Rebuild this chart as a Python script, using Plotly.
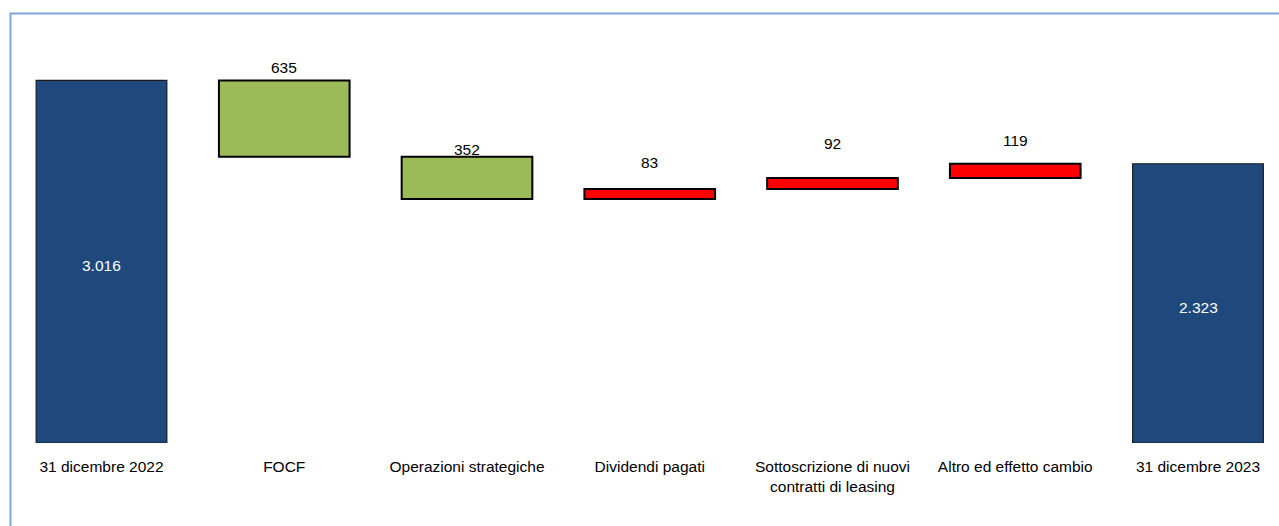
import plotly.graph_objects as go

categories = ["31 dicembre 2022", "FOCF", "Operazioni strategiche", "Dividendi pagati",
              "Sottoscrizione di nuovi<br>contratti di leasing", "Altro ed effetto cambio",
              "31 dicembre 2023"]
measures = ["absolute", "relative", "relative", "relative", "relative", "relative", "total"]
values = [3016, -635, -352, 83, 92, 119, 0]
# pixel offset of each delta label above its bar top
label_offsets = [None, 13, 7, 27, 35, 23, None]

def fmt(v):
    return f"{abs(v):,}".replace(",", ".")

fig = go.Figure(go.Waterfall(
    x=categories, y=values, measure=measures,
    width=0.715,
    connector=dict(visible=False),
    increasing=dict(marker=dict(color="#FF0000", line=dict(color="black", width=2))),
    decreasing=dict(marker=dict(color="#9BBB59", line=dict(color="black", width=2))),
    totals=dict(marker=dict(color="#1F497D", line=dict(color="#1a1a1a", width=1.2))),
    hoverinfo="skip",
))

annotations = []
running = 0
for i, (c, m, v) in enumerate(zip(categories, measures, values)):
    if m in ("absolute", "total"):
        if m == "absolute":
            running = v
        annotations.append(dict(x=c, y=running / 2, yshift=-4, text=fmt(running), showarrow=False,
                                font=dict(color="white", size=15.5, family="Liberation Sans")))
    else:
        top = max(running, running + v)
        running += v
        annotations.append(dict(x=c, y=top, yshift=label_offsets[i], text=fmt(v), showarrow=False,
                                yanchor="middle",
                                font=dict(color="black", size=15.5, family="Liberation Sans")))

fig.update_layout(
    width=1279, height=526,
    margin=dict(l=0, r=0, t=0, b=83),
    paper_bgcolor="white", plot_bgcolor="white",
    showlegend=False,
    annotations=annotations,
    font=dict(family="Liberation Sans", size=15.5, color="black"),
    xaxis=dict(range=[-0.5554, 6.4432], showgrid=False, showline=False, ticks="",
               ticklabelstandoff=12, tickfont=dict(size=15.5, color="black"), fixedrange=True),
    yaxis=dict(range=[0, 3685], visible=False, fixedrange=True),
    shapes=[dict(type="rect", xref="paper", yref="paper",
                 x0=10.5 / 1279, x1=1.05, y0=-0.4, y1=(443 - 13.5) / 443,
                 line=dict(color="#7EA6DC", width=2), fillcolor="rgba(0,0,0,0)", layer="below")],
)

fig.write_html("out.html", config={"displayModeBar": False},
               post_script="document.body.style.margin='0';document.body.style.overflow='hidden';")
